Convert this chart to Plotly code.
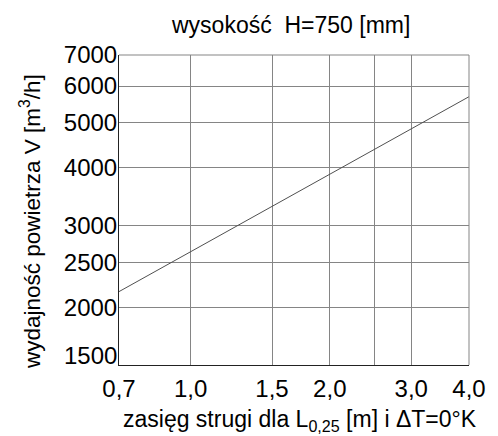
import numpy as np
import plotly.graph_objects as go

# Air flow vs. throw distance for H=750 mm (log-log characteristic)
throw_m = [0.7, 4.0]
airflow_m3h = [2160, 5690]

x_tick_vals = [0.7, 1.0, 1.5, 2.0, 2.5, 3.0, 4.0]
x_tick_text = ["0,7", "1,0", "1,5", "2,0", "", "3,0", "4,0"]
y_tick_vals = [1500, 2000, 2500, 3000, 4000, 5000, 6000, 7000]
y_tick_text = ["1500", "2000", "2500", "3000", "4000", "5000", "6000", "7000"]

FONT = "Liberation Sans, Arial, sans-serif"
GRID = "#858585"
TICK_SIZE = 24

# the lowest y label sits just above the x axis, so it is placed separately
y_axis_text = [t if v != y_tick_vals[0] else "" for v, t in zip(y_tick_vals, y_tick_text)]

fig = go.Figure()
fig.add_trace(go.Scatter(
    x=throw_m, y=airflow_m3h, mode="lines",
    line=dict(color="#505050", width=1),
    showlegend=False, hoverinfo="skip",
))

fig.update_layout(
    width=498, height=436,
    margin=dict(l=119, r=24, t=55, b=71),
    paper_bgcolor="white", plot_bgcolor="white",
    font=dict(family=FONT, color="black"),
    xaxis=dict(
        type="log", range=[np.log10(0.7), np.log10(4.0)],
        tickvals=x_tick_vals, ticktext=x_tick_text,
        tickfont=dict(size=TICK_SIZE), ticks="", ticklabelstandoff=2,
        showgrid=True, gridcolor=GRID, gridwidth=1,
        showline=True, linecolor="#222222", linewidth=1, mirror=False,
        zeroline=False,
    ),
    yaxis=dict(
        type="log", range=[np.log10(1500), np.log10(7000)],
        tickvals=y_tick_vals, ticktext=y_axis_text,
        tickfont=dict(size=TICK_SIZE), ticks="", ticklabelstandoff=-4,
        showgrid=True, gridcolor=GRID, gridwidth=1,
        showline=True, linecolor="#222222", linewidth=1, mirror=False,
        zeroline=False,
    ),
    shapes=[
        dict(type="line", xref="paper", yref="paper", x0=0, x1=1, y0=1, y1=1,
             line=dict(color=GRID, width=1)),
        dict(type="line", xref="paper", yref="paper", x0=1, x1=1, y0=0, y1=1,
             line=dict(color=GRID, width=1)),
    ],
    annotations=[
        dict(text=y_tick_text[0], xref="paper", yref="y",
             x=0, y=np.log10(y_tick_vals[0]), xanchor="right", yanchor="middle",
             xshift=0, yshift=10,
             showarrow=False, font=dict(size=TICK_SIZE, family=FONT)),
        dict(text="wysokość  H=750 [mm]", xref="paper", yref="paper",
             x=0.491, y=1.097, xanchor="center", yanchor="middle",
             showarrow=False, font=dict(size=23, family=FONT)),
        dict(text="wydajność powietrza V [m<sup>3</sup>/h]", xref="paper", yref="paper",
             x=-0.2535, y=0.462, xanchor="center", yanchor="middle", textangle=-90,
             showarrow=False, font=dict(size=22.5, family=FONT)),
        dict(text="zasięg strugi dla L<sub>0,25</sub> [m] i ΔT=0°K", xref="paper", yref="paper",
             x=0.517, y=-0.18, xanchor="center", yanchor="middle",
             showarrow=False, font=dict(size=23, family=FONT)),
    ],
)

fig.write_html("out.html")
